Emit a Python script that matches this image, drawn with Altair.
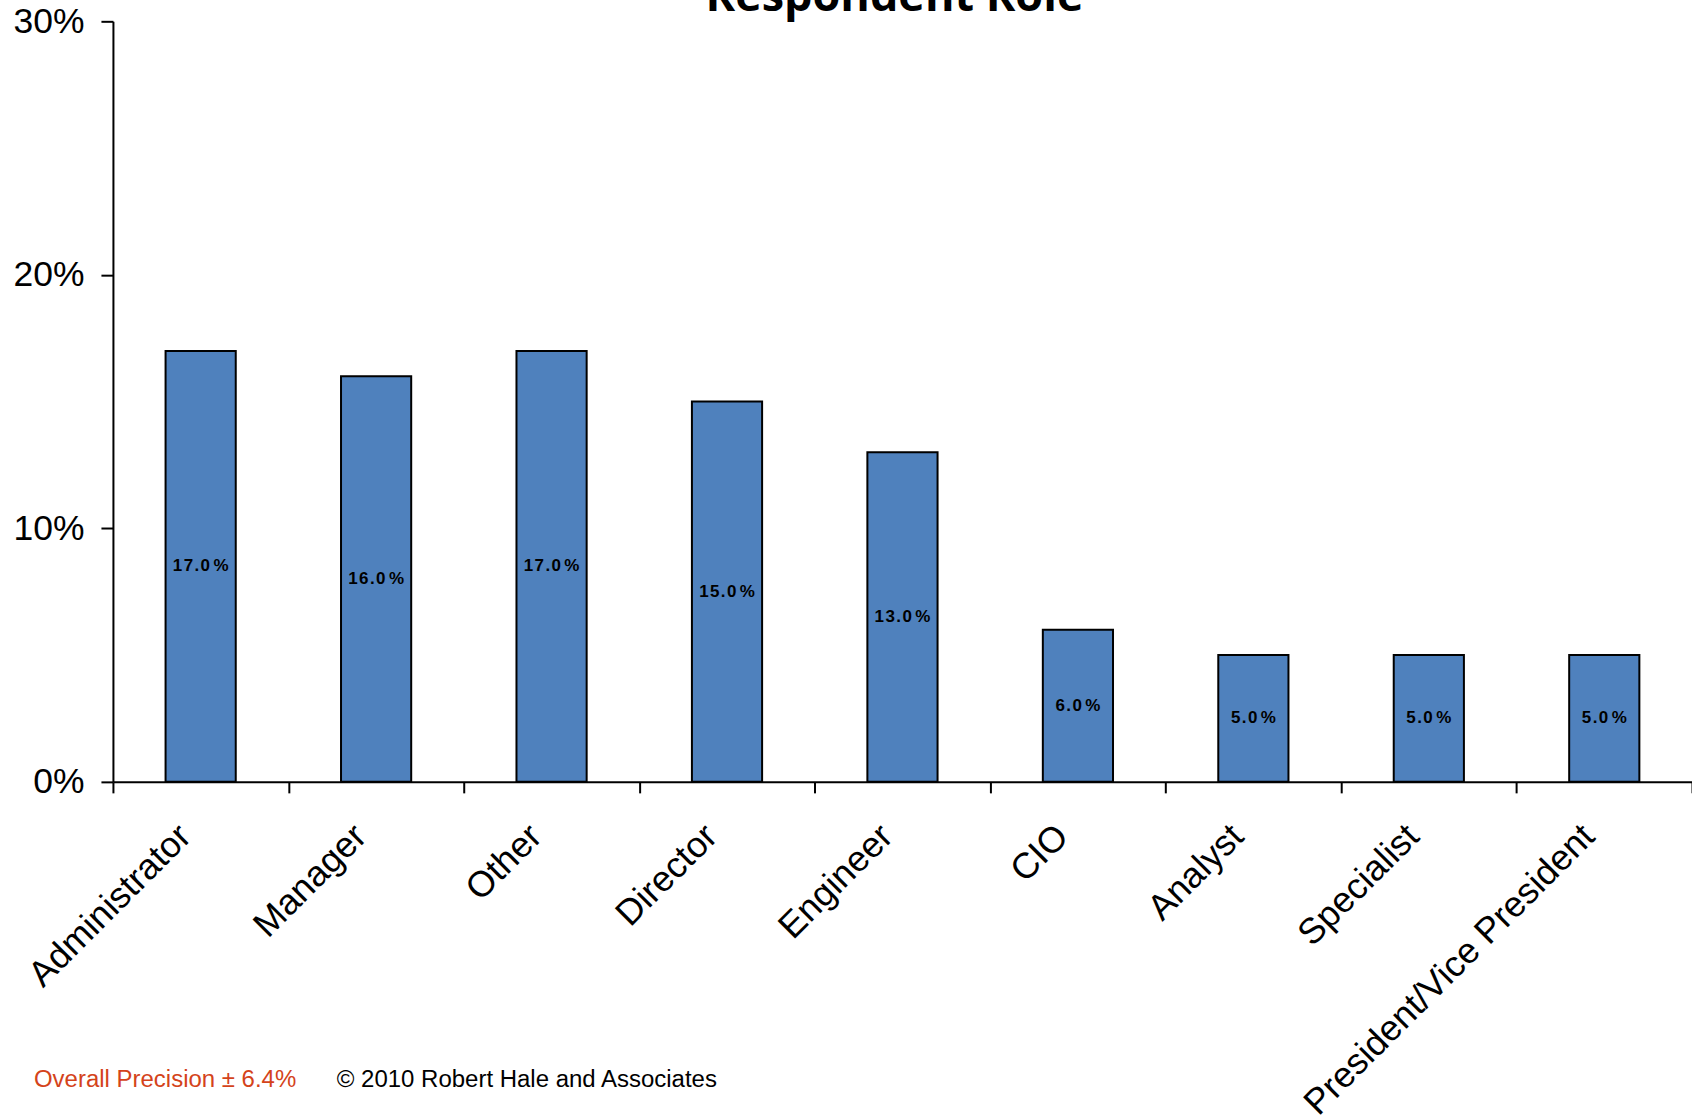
import altair as alt
import pandas as pd

# Survey results: share of respondents by job role
roles = ["Administrator", "Manager", "Other", "Director", "Engineer",
         "CIO", "Analyst", "Specialist", "President/Vice President"]
shares = [17.0, 16.0, 17.0, 15.0, 13.0, 6.0, 5.0, 5.0, 5.0]
y_ticks = [0, 10, 20, 30]

title_text = "Respondent Role"
precision_note = "Overall Precision \u00b1 6.4%"
copyright_note = "\u00a9 2010 Robert Hale and Associates"


def spaced_label(v):
    # loosely tracked value label, e.g. "17.0 %"
    return "\u200a".join(f"{v:.1f}") + "\u2009%"


df = pd.DataFrame({"role": roles, "share": shares})
df["label"] = [spaced_label(v) for v in shares]

PLOT_W = 1580
PLOT_H = 761
LEFT = 113
TOP = 21

x_enc = alt.X(
    "role:N",
    sort=roles,
    scale=alt.Scale(paddingInner=0, paddingOuter=0),
    axis=alt.Axis(
        title=None,
        labelAngle=-45,
        labelAlign="right",
        labelBaseline="middle",
        labelFont="Liberation Sans",
        labelFontSize=36,
        labelColor="black",
        labelLimit=1000,
        labelPadding=37.5,
        labelOffset=-16,
        tickBand="extent",
        tickSize=11,
        tickWidth=2,
        tickColor="black",
        domainColor="black",
        domainWidth=2,
        grid=False,
    ),
)

y_enc = alt.Y(
    "share:Q",
    scale=alt.Scale(domain=[0, 30], nice=False),
    axis=alt.Axis(
        title=None,
        values=y_ticks,
        labelExpr="datum.value + '%'",
        labelFont="Liberation Sans",
        labelFontSize=35.5,
        labelColor="black",
        labelPadding=17,
        tickSize=12,
        tickWidth=2,
        tickColor="black",
        domainColor="black",
        domainWidth=2,
        grid=False,
    ),
)

bars = alt.Chart(df).mark_bar(
    width=alt.RelativeBandSize(0.4),
    color="#4f81bd",
    stroke="black",
    strokeWidth=2,
).encode(x=x_enc, y=y_enc)

bar_labels = alt.Chart(df).transform_calculate(
    mid="datum.share / 2"
).mark_text(
    font="Liberation Sans",
    fontSize=17,
    fontWeight="bold",
    color="black",
    align="center",
    baseline="middle",
).encode(
    x=alt.X("role:N", sort=roles),
    y=alt.Y("mid:Q"),
    text="label:N",
)

title = alt.Chart(pd.DataFrame({"t": [title_text]})).mark_text(
    font="Open Sans",
    fontSize=45,
    fontWeight="bold",
    color="black",
    align="center",
    baseline="alphabetic",
).encode(text="t:N", x=alt.value(782), y=alt.value(-10))

note_left = alt.Chart(pd.DataFrame({"t": [precision_note]})).mark_text(
    font="Liberation Sans",
    fontSize=24,
    color="#d4431a",
    align="left",
    baseline="alphabetic",
).encode(text="t:N", x=alt.value(34 - LEFT), y=alt.value(1087 - TOP))

note_right = alt.Chart(pd.DataFrame({"t": [copyright_note]})).mark_text(
    font="Liberation Sans",
    fontSize=24,
    color="black",
    align="left",
    baseline="alphabetic",
).encode(text="t:N", x=alt.value(337 - LEFT), y=alt.value(1087 - TOP))

chart = alt.layer(bars, bar_labels, title, note_left, note_right).properties(
    width=PLOT_W,
    height=PLOT_H,
    autosize=alt.AutoSizeParams(type="none"),
    padding={"left": LEFT, "top": TOP, "right": 0, "bottom": 1115 - TOP - PLOT_H},
    background="white",
).configure_view(stroke=None)

chart.save("out.html", embed_options={"renderer": "svg", "actions": False})
